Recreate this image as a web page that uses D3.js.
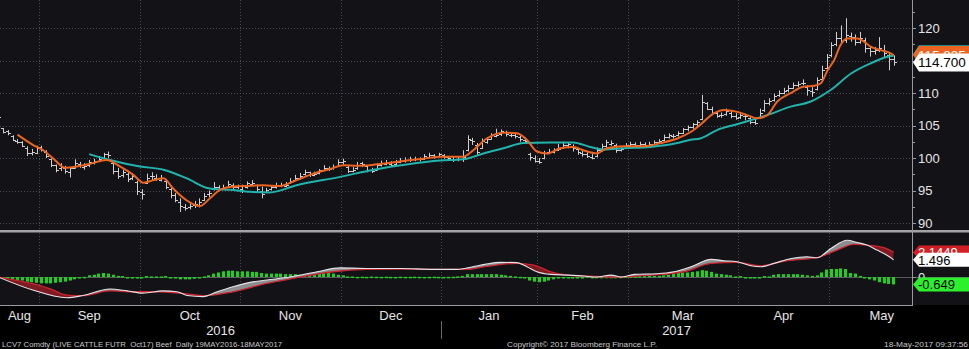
<!DOCTYPE html>
<html>
<head>
<meta charset="utf-8">
<script src="https://cdnjs.cloudflare.com/ajax/libs/d3/7.8.5/d3.min.js"></script>
<style>
  html, body { margin: 0; padding: 0; background: #000; }
  svg { display: block; }
  text { font-family: "Liberation Sans", Arial, sans-serif; }
</style>
</head>
<body>
<svg id="chart" width="969" height="349"></svg>
<script>
// ---- LCV7 Comdty daily bars, trading-day index 0 = 19 Aug 2016 ----
const monthNames = ["Aug", "Sep", "Oct", "Nov", "Dec", "Jan", "Feb", "Mar", "Apr", "May"];
const monthTradingDays = [23, 21, 21, 21, 21, 20, 19, 23, 19, 22];
const firstMonthStart = -14;           // index of 1 Aug 2016
const yearNames = ["2016", "2017"];
const yearStartMonth = [0, 5];          // position in monthNames where each year begins
const priceTicks = [90, 95, 100, 105, 110, 115, 120];
const priceLabels = [90, 95, 100, 105, 110, 120];   // 115 sits under the value tags

const open = [
  106.0,104.6,104.2,103.4,102.6,102.5,101.5,100.8,100.8,101.7,
  101.0,99.8,98.9,98.4,98.5,97.9,98.5,99.1,98.6,98.9,
  99.3,99.6,100.0,100.6,99.2,98.0,97.4,97.5,97.0,96.3,
  94.8,96.2,97.2,97.0,96.6,96.5,95.2,94.3,93.2,92.4,
  92.4,92.8,92.8,93.6,94.5,95.2,95.6,95.4,95.6,95.8,
  95.5,95.3,95.5,96.0,95.8,95.0,94.8,95.2,95.5,95.8,
  95.7,96.1,96.6,97.0,97.5,97.8,97.4,97.7,98.2,98.4,
  98.4,98.8,99.4,98.6,98.0,98.4,99.2,98.7,98.1,98.2,
  99.0,99.1,99.1,99.1,99.4,99.6,99.7,99.8,99.9,99.9,
  100.2,100.4,100.3,100.4,100.1,99.9,99.8,99.9,101.2,102.8,
  102.0,101.6,102.5,103.0,103.4,103.7,104.0,103.6,103.5,103.2,
  102.8,100.6,100.0,99.6,100.0,100.9,101.0,101.3,101.6,102.0,
  101.9,101.4,100.8,100.6,100.2,100.3,101.3,101.8,102.2,102.0,
  101.2,101.6,102.0,102.1,102.0,102.1,102.0,102.2,102.4,102.8,
  103.2,103.4,103.5,103.9,104.4,104.8,105.2,106.0,108.4,107.6,
  106.9,106.6,106.7,107.0,106.4,106.3,106.5,106.2,105.5,106.2,
  107.4,108.5,109.0,109.7,110.0,110.4,110.8,111.2,111.5,111.0,
  110.3,110.6,112.2,113.8,115.8,117.6,118.4,118.2,118.8,118.6,
  117.9,118.2,117.0,116.4,116.6,116.6,115.8,115.2
];
const high = [
  106.6,104.6,104.3,103.5,102.9,102.6,101.8,101.4,101.9,101.9,
  101.2,99.9,99.0,99.2,98.8,98.6,99.8,99.4,99.2,99.7,
  99.9,100.3,100.8,101.0,99.4,98.5,98.2,97.8,97.7,96.5,
  95.2,97.6,97.8,97.5,97.4,96.7,95.4,94.6,93.8,92.9,
  93.0,93.4,93.8,94.6,95.0,96.3,95.8,95.9,96.5,96.1,
  95.9,95.9,96.4,96.6,95.9,95.6,95.4,95.8,96.2,96.2,
  96.3,96.9,97.4,97.7,98.2,97.9,97.9,98.3,98.9,98.7,
  99.0,99.8,99.9,98.8,98.6,99.4,99.4,98.9,98.5,99.2,
  99.6,99.7,99.5,99.7,100.0,100.1,100.2,100.2,100.1,100.6,
  100.8,100.6,100.8,100.6,100.3,100.2,100.2,101.2,103.5,103.1,
  102.3,103.0,103.2,103.8,104.5,104.4,104.2,104.0,103.8,103.4,
  103.2,100.8,100.4,100.0,101.1,101.4,101.5,102.2,102.5,102.4,
  102.1,101.6,101.1,100.9,100.6,101.6,102.2,102.8,102.7,102.2,
  101.8,102.3,102.5,102.4,102.5,102.4,102.5,102.7,102.9,103.6,
  103.8,103.7,104.1,104.6,105.0,105.4,105.8,109.7,108.6,107.9,
  107.2,107.0,107.6,107.3,106.9,107.0,106.8,106.3,106.0,107.6,
  108.9,109.2,109.9,110.4,110.8,111.2,111.6,111.8,112.1,111.2,
  110.9,112.4,114.2,116.0,117.8,119.4,120.4,121.5,119.3,119.0,
  119.4,118.5,117.2,117.1,118.6,117.4,116.3,115.8
];
const low = [
  105.8,103.8,103.5,102.6,102.2,101.7,100.3,100.4,100.6,101.0,
  100.0,98.6,97.8,98.0,97.6,97.0,98.4,98.5,98.2,98.6,
  99.0,99.4,99.8,100.0,97.5,96.8,97.0,96.3,96.6,94.3,
  93.6,96.0,96.6,96.5,96.4,95.2,93.8,93.2,91.7,91.9,
  92.1,92.3,92.4,93.4,94.0,95.0,95.0,95.1,95.4,95.2,
  95.2,94.6,95.3,95.7,94.8,93.8,94.6,95.0,95.3,95.5,
  95.5,96.0,96.5,96.7,97.3,97.1,97.2,97.5,98.0,98.0,
  98.2,98.7,99.0,97.7,97.8,98.2,98.6,97.8,97.7,98.1,
  98.7,98.9,98.7,98.9,99.2,99.3,99.4,99.5,99.5,99.7,
  100.0,99.9,100.1,99.9,99.6,99.4,99.5,99.4,101.0,102.0,
  100.5,101.4,102.2,102.8,103.2,103.4,103.3,103.2,103.0,102.5,
  102.3,99.6,99.3,99.1,99.8,100.6,100.7,101.1,101.4,101.5,
  101.0,100.5,100.2,100.0,99.8,100.1,101.0,101.6,101.9,100.8,
  101.0,101.4,101.7,101.6,101.8,101.7,101.8,101.9,102.2,102.6,
  103.0,103.0,103.3,103.7,104.1,104.5,104.9,105.8,107.4,106.6,
  106.2,106.2,106.5,106.1,105.9,106.0,105.8,105.2,105.1,106.0,
  107.1,108.1,108.7,109.4,109.8,110.1,110.6,110.9,111.2,109.6,
  109.4,110.4,112.0,113.6,115.5,117.2,117.6,117.7,117.9,117.3,
  117.6,116.2,115.6,115.9,116.3,115.4,113.5,114.2
];
const close = [
  106.3,104.0,103.8,102.8,102.4,101.9,100.8,101.0,101.6,101.3,
  100.3,99.0,98.2,98.6,98.0,98.4,99.3,98.9,98.7,99.4,
  99.6,99.9,100.6,100.4,98.0,97.3,97.8,96.8,97.2,95.0,
  94.4,96.9,97.2,96.8,96.9,95.6,94.3,93.6,92.6,92.3,
  92.6,93.0,93.3,94.2,94.6,95.6,95.3,95.6,96.0,95.6,
  95.7,95.0,96.1,96.2,95.2,94.4,95.1,95.5,95.8,95.9,
  95.8,96.5,97.0,97.3,97.9,97.5,97.6,98.1,98.5,98.3,
  98.6,99.4,99.5,98.0,98.2,99.0,99.1,98.2,98.0,98.9,
  99.2,99.3,99.0,99.4,99.6,99.7,99.8,99.9,99.8,100.3,
  100.4,100.2,100.6,100.2,100.0,99.8,99.9,100.2,103.0,102.6,
  101.0,102.6,102.9,103.5,103.6,104.1,103.7,103.6,103.4,102.9,
  102.6,100.2,99.6,99.4,100.8,101.0,101.2,101.4,102.0,102.2,
  101.6,101.0,100.6,100.3,100.0,101.2,101.8,102.4,102.3,101.2,
  101.4,102.0,102.2,102.0,102.2,102.0,102.1,102.4,102.6,103.3,
  103.5,103.4,103.8,104.4,104.8,105.2,105.5,108.6,107.6,107.0,
  106.5,106.6,107.2,106.5,106.2,106.6,106.4,105.6,105.4,107.0,
  108.4,108.8,109.6,110.0,110.3,110.7,111.2,111.4,111.6,110.4,
  110.2,112.0,113.6,115.6,117.4,118.5,118.0,119.0,118.6,117.8,
  118.4,117.0,116.4,116.6,117.0,116.2,115.2,114.7
];

// Simple moving averages as plotted: [trading-day index, value]
const sma5 = [
  [4,103.6],[7.3,102.0],[9.4,101.2],[11.8,99.7],[13.9,98.5],[16.4,98.7],[19.2,99.1],[22.6,99.7],
  [25.4,98.7],[28.2,97.4],[30.3,96.2],[32.4,96.6],[34.5,96.9],[36.5,95.3],[39.3,93.5],[42.1,92.6],
  [44.2,93.8],[46.3,95.1],[49.1,95.6],[51.9,95.7],[55.3,95.8],[58.8,95.7],[62.3,96.6],[65.8,97.6],
  [69.3,98.3],[72.1,98.9],[74.9,98.8],[77.6,98.9],[81.1,99.2],[85.3,99.6],[88.8,99.9],[92.3,100.2],
  [97.1,100.2],[99.2,101.2],[102,103.0],[105.5,103.9],[108.3,103.8],[110.4,102.8],[112.5,101.0],
  [114.6,100.7],[117.4,101.5],[120.1,101.7],[122.2,101.2],[125,100.7],[127.1,101.5],[130.6,101.8],
  [134.8,101.8],[138.3,102.3],[141.8,103.0],[144.6,104.0],[146.6,105.1],[149.5,106.9],[151.6,107.4],
  [154.3,107.1],[156.4,106.6],[158.5,106.1],[160.6,106.6],[162.7,108.7],[165.5,110.0],[168.3,111.0],
  [170.4,111.1],[171.8,111.5],[173.2,113.5],[174.6,115.1],[175.9,117.4],[177.3,118.4],[179.4,118.4],
  [180.8,117.9],[182.3,117.1],[184.3,116.6],[186.4,116.1],[187,115.835]
];
const sma20 = [
  [19,100.6],[23.3,99.7],[29.6,98.7],[34.5,98.2],[39.3,96.9],[44.2,95.3],[48.4,95.1],[52.6,94.8],
  [56.7,94.7],[62.3,95.8],[71.4,97.1],[78.4,98.2],[85.3,99.0],[92.3,99.6],[97.1,99.8],[101.3,100.7],
  [105.5,101.5],[109.7,102.3],[115.2,102.4],[120.1,102.4],[123.6,101.7],[126.4,101.3],[130.6,101.5],
  [136.2,101.7],[141.8,102.3],[144.6,102.8],[146.6,103.0],[150.1,104.3],[154.3,105.2],[160.6,106.6],
  [165.5,107.9],[169.7,108.7],[173.9,110.5],[178.1,113.0],[182.3,114.6],[186.4,115.7],[187,115.75]
];

// MACD (12,26,9): [trading-day index, value]
const macdLine = [
  [0,0],[7.2,-1.13],[14.3,-1.8],[17.7,-1.6],[23.3,-1.04],[26.9,-1.2],[30.2,-1.4],[34.4,-1.2],
  [37.3,-1.28],[39.4,-1.6],[42.8,-1.7],[45.7,-1.28],[49,-0.84],[52.6,-0.46],[56.1,-0.26],[60.9,0],
  [66.6,0.46],[71.4,0.8],[77,0.75],[83.9,0.75],[90.8,0.67],[95.8,0.67],[99.1,0.9],[101.6,1.1],
  [104.9,1.28],[108.3,1.25],[110.4,0.9],[112.5,0.46],[115.4,0.23],[118.8,0.17],[122.3,0.09],
  [125,0],[128,0.17],[130.1,0],[132.8,0.23],[137.6,0.29],[141.1,0.46],[144.7,0.9],[148.9,1.54],
  [151.6,1.42],[154.3,1.33],[157.2,0.98],[159.3,0.9],[162,1.19],[165.6,1.62],[168.9,1.77],
  [171,1.68],[173.9,2.49],[177.3,3.2],[179.4,3.0],[181.4,2.78],[183.5,2.35],[185.6,1.9],[187,1.496]
];
const macdSignal = [
  [0,0],[7.2,-0.58],[10.7,-1.0],[14.3,-1.57],[17.7,-1.62],[23.3,-1.2],[28.1,-1.28],[33.1,-1.28],
  [38.5,-1.42],[43.3,-1.62],[49,-1.28],[56.1,-0.55],[61.6,-0.12],[69.9,0.46],[77,0.67],[83.9,0.7],
  [90.8,0.67],[97.9,0.67],[101.6,0.9],[108.3,1.19],[111.8,1.04],[115.4,0.46],[118.8,0.17],
  [122.3,0.09],[129.2,0],[136.3,0.17],[143.2,0.46],[148.9,1.19],[154.3,1.28],[159.3,0.98],
  [164.3,1.39],[171,1.68],[175.2,2.35],[178.7,2.84],[181.4,2.78],[185,2.55],[187,2.1449]
];
const macdHist = [
  -0.05,-0.1,-0.15,-0.2,-0.25,-0.3,-0.4,-0.45,-0.5,-0.55,
  -0.55,-0.55,-0.5,-0.45,-0.4,-0.3,-0.2,-0.1,0.02,0.15,
  0.2,0.3,0.35,0.3,0.2,0.1,0.0,-0.05,-0.1,-0.1,
  -0.1,0.0,0.05,0.05,0.05,0.0,-0.05,-0.1,-0.2,-0.2,
  -0.2,-0.15,-0.1,0.05,0.15,0.3,0.4,0.5,0.55,0.55,
  0.5,0.5,0.5,0.45,0.45,0.35,0.3,0.3,0.3,0.3,
  0.25,0.25,0.25,0.2,0.25,0.3,0.3,0.35,0.35,0.35,
  0.3,0.2,0.15,0.05,0.05,0.02,0.03,0.02,0.04,0.03,
  0.02,0.03,0.02,0.01,0.03,0.02,0.02,0.03,0.02,0.01,
  0.02,0.03,0.02,0.01,0.02,0.03,0.05,0.1,0.25,0.25,
  0.25,0.25,0.25,0.25,0.25,0.2,0.15,0.1,0.05,0.02,
  -0.1,-0.3,-0.4,-0.45,-0.4,-0.3,-0.2,-0.1,-0.05,-0.05,
  -0.03,-0.03,-0.02,0.0,0.01,0.02,0.02,0.03,0.02,0.02,
  0.03,0.05,0.06,0.07,0.08,0.08,0.1,0.1,0.1,0.15,
  0.2,0.3,0.35,0.4,0.4,0.45,0.5,0.6,0.55,0.45,
  0.3,0.25,0.2,0.15,0.05,0.0,-0.05,-0.08,-0.08,-0.05,
  0.0,0.05,0.2,0.25,0.25,0.25,0.25,0.25,0.2,0.15,
  0.1,0.15,0.4,0.65,0.7,0.7,0.75,0.7,0.35,0.3,
  0.1,-0.05,-0.2,-0.3,-0.45,-0.55,-0.6,-0.649
];

// Last-value tags
const lastPrice = 114.700;
const lastSma5 = 115.835;
const lastSma20 = 115.75;
const lastMacd = 1.496;
const lastSignal = 2.1449;
const lastHist = -0.649;

const footerLeft = "LCV7 Comdty (LIVE CATTLE FUTR  Oct17) Beef  Daily 19MAY2016-18MAY2017";
const footerMid = "Copyright\u00A9 2017 Bloomberg Finance L.P.";
const footerRight = "18-May-2017 09:37:56";

// ---- layout ----
const W = 969, H = 349;
const plotR = 912;
const upTop = 0, upBot = 231;
const loTop = 233, loBot = 305;

const svg = d3.select("#chart");
svg.append("rect").attr("width", W).attr("height", H).attr("fill", "#000");
svg.append("rect").attr("width", W).attr("height", loBot).attr("fill", "#121217");

const x = d3.scaleLinear().domain([0.855, 191.33]).range([0, plotR]);
const cx = i => x(i + 0.5);
const yP = d3.scaleLinear().domain([88.77, 124.31]).range([upBot, upTop]);
const yM = d3.scaleLinear().domain([-2.43, 3.83]).range([loBot, loTop]);

const defs = svg.append("defs");
defs.append("clipPath").attr("id", "clipUp")
  .append("rect").attr("x", 0).attr("y", upTop).attr("width", plotR).attr("height", upBot - upTop);
defs.append("clipPath").attr("id", "clipLo")
  .append("rect").attr("x", 0).attr("y", loTop).attr("width", plotR).attr("height", loBot - loTop);

// month boundaries
const months = [];
{
  let s = firstMonthStart;
  monthNames.forEach((m, k) => {
    months.push({ name: m, start: s, end: s + monthTradingDays[k] });
    s += monthTradingDays[k];
  });
}

const gridColor = "#4a4a52";
const grid = svg.append("g");
// vertical dotted month lines (both panels)
months.slice(1).forEach(m => {
  const gx = Math.round(x(m.start)) + 0.5;
  [[upTop, upBot - 1], [loTop, loBot]].forEach(([a, b]) => {
    grid.append("line").attr("x1", gx).attr("x2", gx).attr("y1", a).attr("y2", b)
      .attr("stroke", gridColor).attr("stroke-width", 1).attr("stroke-dasharray", "1,2");
  });
});
// horizontal dotted price lines
priceTicks.forEach(p => {
  const gy = Math.round(yP(p)) + 0.5;
  grid.append("line").attr("x1", 0).attr("x2", plotR).attr("y1", gy).attr("y2", gy)
    .attr("stroke", gridColor).attr("stroke-width", 1).attr("stroke-dasharray", "1,2");
});
// MACD zero line
grid.append("line").attr("x1", 0).attr("x2", W).attr("y1", Math.round(yM(0)) + 0.5).attr("y2", Math.round(yM(0)) + 0.5)
  .attr("stroke", "#5a5a5e").attr("stroke-width", 1);

// ---- price bars ----
const up = svg.append("g").attr("clip-path", "url(#clipUp)");
const barPath = close.map((c, i) => {
  const bx = Math.round(cx(i)) + 0.5;
  return `M${bx},${yP(high[i])}V${yP(low[i])}` +
         `M${bx - 2.5},${Math.round(yP(open[i])) + 0.5}H${bx}` +
         `M${bx},${Math.round(yP(c)) + 0.5}H${bx + 2.5}`;
}).join("");
up.append("path").attr("d", barPath).attr("fill", "none")
  .attr("stroke", "#cfcfd2").attr("stroke-width", 1);

const maLine = d3.line().x(d => cx(d[0])).y(d => yP(d[1])).curve(d3.curveMonotoneX);
up.append("path").attr("d", maLine(sma20)).attr("fill", "none")
  .attr("stroke", "#22b3ad").attr("stroke-width", 2);
up.append("path").attr("d", maLine(sma5)).attr("fill", "none")
  .attr("stroke", "#ec6420").attr("stroke-width", 2);

// ---- MACD panel ----
const lo = svg.append("g").attr("clip-path", "url(#clipLo)");

// histogram
const hw = 3;
lo.append("g").selectAll("rect").data(macdHist).join("rect")
  .attr("x", (d, i) => Math.round(cx(i) - hw / 2))
  .attr("width", hw)
  .attr("y", d => d >= 0 ? yM(d) - (d === 0 ? 1 : 0) : yM(0))
  .attr("height", d => Math.max(1.5, Math.abs(yM(d) - yM(0))))
  .attr("fill", "#19d419");

// ribbon between MACD and signal: grey where MACD is above, dark red where below
const curve = d3.curveMonotoneX;
const aboveArea = pts => d3.area().x(d => cx(d[0])).y0(loTop - 5).y1(d => yM(d[1])).curve(curve)(pts);
const belowArea = pts => d3.area().x(d => cx(d[0])).y0(loBot + 5).y1(d => yM(d[1])).curve(curve)(pts);
defs.append("clipPath").attr("id", "sigAbove").append("path").attr("d", aboveArea(macdSignal));
defs.append("clipPath").attr("id", "sigBelow").append("path").attr("d", belowArea(macdSignal));
defs.append("clipPath").attr("id", "macdAbove").append("path").attr("d", aboveArea(macdLine));
defs.append("clipPath").attr("id", "macdBelow").append("path").attr("d", belowArea(macdLine));

lo.append("g").attr("clip-path", "url(#sigAbove)")
  .append("rect").attr("clip-path", "url(#macdBelow)")
  .attr("x", 0).attr("y", loTop).attr("width", plotR).attr("height", loBot - loTop)
  .attr("fill", "#8d8d92");
lo.append("g").attr("clip-path", "url(#sigBelow)")
  .append("rect").attr("clip-path", "url(#macdAbove)")
  .attr("x", 0).attr("y", loTop).attr("width", plotR).attr("height", loBot - loTop)
  .attr("fill", "#7f1a22");

const mLine = d3.line().x(d => cx(d[0])).y(d => yM(d[1])).curve(curve);
lo.append("path").attr("d", mLine(macdSignal)).attr("fill", "none")
  .attr("stroke", "#c9252f").attr("stroke-width", 1.3);
lo.append("path").attr("d", mLine(macdLine)).attr("fill", "none")
  .attr("stroke", "#e4e4e8").attr("stroke-width", 1.1);

// ---- frame / axes ----
const axisColor = "#9a9a9e";
svg.append("rect").attr("x", 0).attr("y", 230).attr("width", W).attr("height", 2.5).attr("fill", "#a3a3a6");
svg.append("line").attr("x1", plotR + 0.5).attr("x2", plotR + 0.5).attr("y1", 0).attr("y2", loBot)
  .attr("stroke", axisColor).attr("stroke-width", 1);
svg.append("line").attr("x1", 0).attr("x2", plotR + 1).attr("y1", loBot + 0.5).attr("y2", loBot + 0.5)
  .attr("stroke", axisColor).attr("stroke-width", 1);

// price axis ticks and labels
const ax = svg.append("g");
d3.range(87.5, 125, 2.5).forEach(v => {
  const ty = Math.round(yP(v)) + 0.5;
  if (ty < 1 || ty > upBot - 2) return;
  const major = priceTicks.includes(v);
  ax.append("line").attr("x1", plotR).attr("x2", plotR + (major ? 4 : 3)).attr("y1", ty).attr("y2", ty)
    .attr("stroke", axisColor).attr("stroke-width", 1);
});
priceLabels.forEach(p => {
  ax.append("text").attr("x", 918).attr("y", yP(p)).attr("dy", "0.36em")
    .attr("font-size", 13).attr("fill", "#e6e6e6").text(p);
});
ax.append("line").attr("x1", plotR).attr("x2", plotR + 4).attr("y1", Math.round(yM(0)) + 0.5).attr("y2", Math.round(yM(0)) + 0.5)
  .attr("stroke", axisColor);
ax.append("text").attr("x", 918).attr("y", yM(0)).attr("dy", "0.36em")
  .attr("font-size", 13).attr("fill", "#e6e6e6").text("0");

// month labels, centred on each month's span (clipped to the visible range)
const visLo = x.domain()[0];
months.forEach(m => {
  const a = x(Math.max(m.start, visLo)), b = x(m.end);
  svg.append("text").attr("x", (a + b) / 2).attr("y", 320).attr("text-anchor", "middle")
    .attr("font-size", 13).attr("fill", "#e6e6e6").text(m.name);
});
// year labels and separator
const yearBounds = yearStartMonth.map(k => months[k].start);
yearNames.forEach((yn, k) => {
  const a = x(Math.max(yearBounds[k], visLo));
  const b = k + 1 < yearBounds.length ? x(yearBounds[k + 1]) : plotR;
  svg.append("text").attr("x", (a + b) / 2).attr("y", 335).attr("text-anchor", "middle")
    .attr("font-size", 13).attr("fill", "#e6e6e6").text(yn);
});
const sepX = Math.round(x(yearBounds[1])) + 0.5;
svg.append("line").attr("x1", sepX).attr("x2", sepX).attr("y1", 321).attr("y2", 339)
  .attr("stroke", "#6a6a6e").attr("stroke-width", 1);

// footer
svg.append("text").attr("x", 2).attr("y", 347).attr("font-size", 8).attr("fill", "#c8c8c8")
  .attr("textLength", 280).attr("lengthAdjust", "spacingAndGlyphs")
  .style("white-space", "pre").text(footerLeft);
svg.append("text").attr("x", 507).attr("y", 347).attr("font-size", 8).attr("fill", "#c8c8c8")
  .attr("textLength", 150).attr("lengthAdjust", "spacingAndGlyphs").text(footerMid);
svg.append("text").attr("x", 884).attr("y", 347).attr("font-size", 8).attr("fill", "#c8c8c8")
  .attr("textLength", 84).attr("lengthAdjust", "spacingAndGlyphs").text(footerRight);

// ---- value tags on the right axis ----
function tagShape(yc, h, fill) {
  const x0 = plotR + 1, x1 = x0 + 6;
  svg.append("path")
    .attr("d", `M${x0},${yc}L${x1},${yc - h / 2}L${W},${yc - h / 2}L${W},${yc + h / 2}L${x1},${yc + h / 2}Z`)
    .attr("fill", fill);
}
function tag(yc, h, fill, textFill, label, fs) {
  tagShape(yc, h, fill);
  svg.append("text").attr("x", 918).attr("y", yc).attr("dy", "0.36em")
    .attr("font-size", fs).attr("fill", textFill).text(label);
}
// the 20-day tag lies almost entirely beneath the 5-day tag
tagShape(yP(lastSma20) - 1.5, 18, "#22b3ad");
tag(yP(lastSma5), 18, "#ec6420", "#ffffff", lastSma5.toFixed(3), 13.5);
tag(yP(lastPrice), 18, "#ffffff", "#000000", lastPrice.toFixed(3), 13.5);
tag(yM(lastSignal), 14, "#d11f26", "#ffffff", lastSignal.toFixed(4), 13);
tag(yM(lastMacd), 14, "#ffffff", "#000000", lastMacd.toFixed(3), 13);
tag(yM(lastHist), 14, "#2cf02c", "#000000", lastHist.toFixed(3), 13);
</script>
</body>
</html>
